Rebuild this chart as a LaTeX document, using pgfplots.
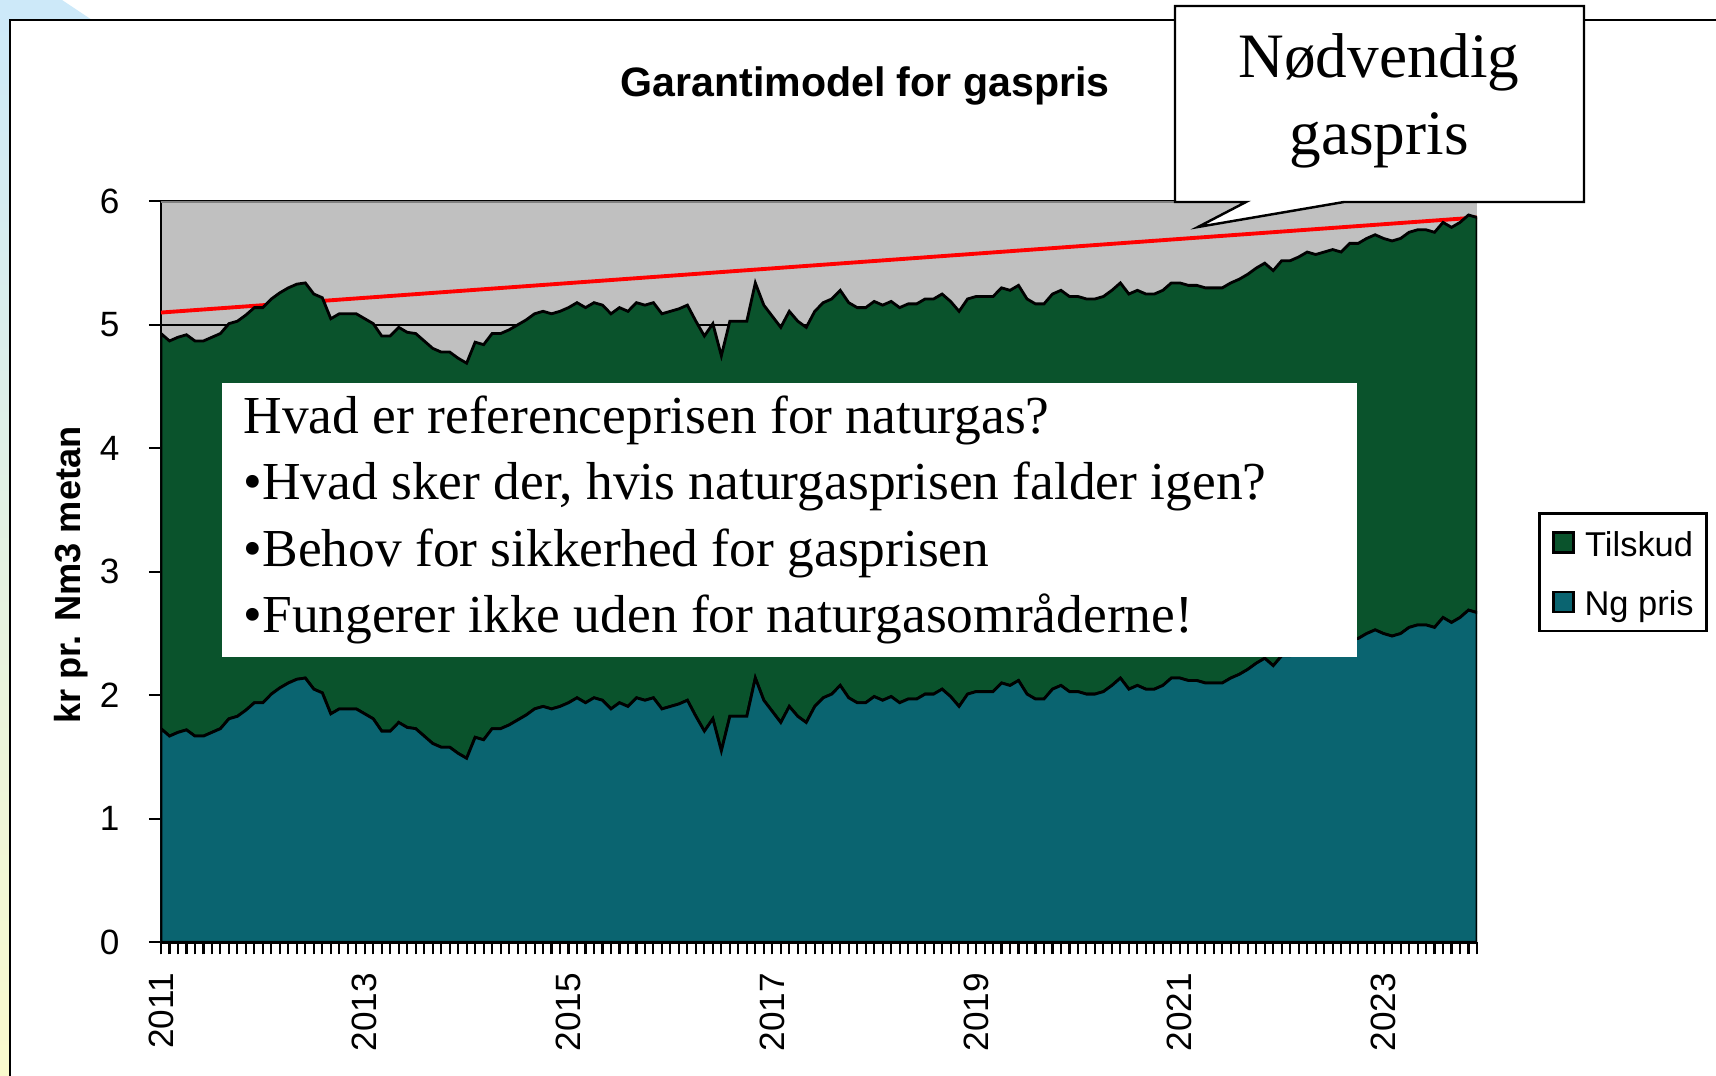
\documentclass[border=0pt]{standalone}
\usepackage{pgfplots}
\pgfplotsset{compat=1.18}
\usepackage{pgfplotstable}
\usepackage{fontspec}
\setmainfont{Liberation Sans}
\newfontfamily\timesfont{Liberation Serif}

\definecolor{ngteal}{RGB}{10,100,112}
\definecolor{tilgreen}{RGB}{10,83,44}
\definecolor{plotgray}{RGB}{192,192,192}
\definecolor{bordergray}{RGB}{128,128,128}
\definecolor{slideblue}{RGB}{205,233,249}
\definecolor{slideyellow}{RGB}{250,250,205}

% month index (0 = jan 2011), Ng pris, Tilskud
\pgfplotstableread[row sep=\\]{
m ng tilskud\\
0 1.73 3.2\\ 1 1.67 3.2\\ 2 1.70 3.2\\ 3 1.72 3.2\\ 4 1.67 3.2\\ 5 1.67 3.2\\
6 1.70 3.2\\ 7 1.73 3.2\\ 8 1.81 3.2\\ 9 1.83 3.2\\ 10 1.88 3.2\\ 11 1.94 3.2\\
12 1.94 3.2\\ 13 2.01 3.2\\ 14 2.06 3.2\\ 15 2.10 3.2\\ 16 2.13 3.2\\ 17 2.14 3.2\\
18 2.05 3.2\\ 19 2.02 3.2\\ 20 1.85 3.2\\ 21 1.89 3.2\\ 22 1.89 3.2\\ 23 1.89 3.2\\
24 1.85 3.2\\ 25 1.81 3.2\\ 26 1.71 3.2\\ 27 1.71 3.2\\ 28 1.78 3.2\\ 29 1.74 3.2\\
30 1.73 3.2\\ 31 1.67 3.2\\ 32 1.61 3.2\\ 33 1.58 3.2\\ 34 1.58 3.2\\ 35 1.53 3.2\\
36 1.49 3.2\\ 37 1.66 3.2\\ 38 1.64 3.2\\ 39 1.73 3.2\\ 40 1.73 3.2\\ 41 1.76 3.2\\
42 1.80 3.2\\ 43 1.84 3.2\\ 44 1.89 3.2\\ 45 1.91 3.2\\ 46 1.89 3.2\\ 47 1.91 3.2\\
48 1.94 3.2\\ 49 1.98 3.2\\ 50 1.94 3.2\\ 51 1.98 3.2\\ 52 1.96 3.2\\ 53 1.89 3.2\\
54 1.94 3.2\\ 55 1.91 3.2\\ 56 1.98 3.2\\ 57 1.96 3.2\\ 58 1.98 3.2\\ 59 1.89 3.2\\
60 1.91 3.2\\ 61 1.93 3.2\\ 62 1.96 3.2\\ 63 1.83 3.2\\ 64 1.71 3.2\\ 65 1.81 3.2\\
66 1.55 3.2\\ 67 1.83 3.2\\ 68 1.83 3.2\\ 69 1.83 3.2\\ 70 2.14 3.2\\ 71 1.96 3.2\\
72 1.87 3.2\\ 73 1.78 3.2\\ 74 1.91 3.2\\ 75 1.83 3.2\\ 76 1.78 3.2\\ 77 1.91 3.2\\
78 1.98 3.2\\ 79 2.01 3.2\\ 80 2.08 3.2\\ 81 1.98 3.2\\ 82 1.94 3.2\\ 83 1.94 3.2\\
84 1.99 3.2\\ 85 1.96 3.2\\ 86 1.99 3.2\\ 87 1.94 3.2\\ 88 1.97 3.2\\ 89 1.97 3.2\\
90 2.01 3.2\\ 91 2.01 3.2\\ 92 2.05 3.2\\ 93 1.99 3.2\\ 94 1.91 3.2\\ 95 2.01 3.2\\
96 2.03 3.2\\ 97 2.03 3.2\\ 98 2.03 3.2\\ 99 2.10 3.2\\ 100 2.08 3.2\\ 101 2.12 3.2\\
102 2.01 3.2\\ 103 1.97 3.2\\ 104 1.97 3.2\\ 105 2.05 3.2\\ 106 2.08 3.2\\ 107 2.03 3.2\\
108 2.03 3.2\\ 109 2.01 3.2\\ 110 2.01 3.2\\ 111 2.03 3.2\\ 112 2.08 3.2\\ 113 2.14 3.2\\
114 2.05 3.2\\ 115 2.08 3.2\\ 116 2.05 3.2\\ 117 2.05 3.2\\ 118 2.08 3.2\\ 119 2.14 3.2\\
120 2.14 3.2\\ 121 2.12 3.2\\ 122 2.12 3.2\\ 123 2.10 3.2\\ 124 2.10 3.2\\ 125 2.10 3.2\\
126 2.14 3.2\\ 127 2.17 3.2\\ 128 2.21 3.2\\ 129 2.26 3.2\\ 130 2.30 3.2\\ 131 2.24 3.2\\
132 2.32 3.2\\ 133 2.32 3.2\\ 134 2.35 3.2\\ 135 2.39 3.2\\ 136 2.37 3.2\\ 137 2.39 3.2\\
138 2.41 3.2\\ 139 2.39 3.2\\ 140 2.46 3.2\\ 141 2.46 3.2\\ 142 2.50 3.2\\ 143 2.53 3.2\\
144 2.50 3.2\\ 145 2.48 3.2\\ 146 2.50 3.2\\ 147 2.55 3.2\\ 148 2.57 3.2\\ 149 2.57 3.2\\
150 2.55 3.2\\ 151 2.63 3.2\\ 152 2.59 3.2\\ 153 2.63 3.2\\ 154 2.69 3.2\\ 155 2.67 3.2\\
}\gasdata

\begin{document}
\begin{tikzpicture}
\useasboundingbox (0,0) rectangle (17.16,10.76);

% slide background at the left edge
\shade[top color=slideblue, bottom color=slideyellow] (0,0) rectangle (0.10,10.76);
\fill[slideblue] (0,10.76) -- (0.62,10.76) -- (0.92,10.56) -- (0,10.56) -- cycle;
\draw[black, line width=0.85pt] (0.10,-0.1) -- (0.10,10.56) -- (17.3,10.56);

\begin{axis}[
    at={(1.61cm,1.337cm)}, anchor=south west,
    width=13.16cm, height=7.409cm, scale only axis,
    xmin=0, xmax=155, ymin=0, ymax=6,
    axis lines=left,
    axis line style={-, black, line width=0.8pt},
    axis background/.style={fill=plotgray},
    xtick={0,24,48,72,96,120,144},
    xticklabels={2011,2013,2015,2017,2019,2021,2023},
    minor xtick={0,1,...,155},
    ytick={0,1,2,3,4,5,6},
    tick align=outside,
    major tick length=0.12cm, minor tick length=0.12cm,
    tick style={black, line width=0.6pt},
    tick label style={font=\fontsize{10}{12}\selectfont},
    /pgf/number format/assume math mode=true,
    xticklabel style={rotate=90, anchor=east, inner xsep=0.18cm, inner ysep=0pt},
    yticklabel style={anchor=east, inner xsep=0.29cm, inner ysep=0pt},
    ymajorgrids,
    major grid style={black, line width=0.6pt},
    stack plots=y,
    reverse legend,
    legend image code/.code={\draw[#1, draw=black, line width=0.6pt] (0cm,-0.1cm) rectangle (0.2cm,0.1cm);},
    legend style={at={(1.0464,0.5807)}, anchor=north west, draw=black, line width=0.8pt,
        fill=white, font=\fontsize{9.8}{12}\selectfont,
        inner xsep=0.13cm, inner ysep=0.12cm, row sep=0.255cm, column sep=0.1cm,
        nodes={inner sep=0pt, text height=0.31cm, text depth=0.03cm}},
]
\addplot[fill=ngteal, draw=black, line width=0.8pt] table[x=m, y=ng] {\gasdata} \closedcycle;
\addplot[fill=tilgreen, draw=black, line width=0.8pt] table[x=m, y=tilskud] {\gasdata} \closedcycle;
\addplot[stack plots=false, forget plot, red, line width=1.1pt] coordinates {(0,5.10) (155,5.87)};
\legend{Ng pris, Tilskud}
\draw[bordergray, line width=1pt] (rel axis cs:0,1) -- (rel axis cs:1,1);
\draw[bordergray, line width=0.8pt] ([xshift=0.6pt]rel axis cs:1,0) -- ([xshift=0.6pt]rel axis cs:1,1);
\end{axis}

% y axis label and title
\node[rotate=90, font=\bfseries\fontsize{10.3}{12}\selectfont] at (0.71,5.01) {kr pr. Nm3 metan};
\node[anchor=base, font=\bfseries\fontsize{11.7}{14}\selectfont] at (8.65,9.79) {Garantimodel for gaspris};

% text box over the chart
\fill[white] (2.22,6.93) rectangle (13.57,4.19);
\begin{scope}[every node/.style={anchor=base west, inner sep=0pt, font=\timesfont\fontsize{15.2}{19}\selectfont}]
\node at (2.43,6.42) {Hvad er referenceprisen for naturgas?};
\node at (2.43,5.76) {•Hvad sker der, hvis naturgasprisen falder igen?};
\node at (2.43,5.09) {•Behov for sikkerhed for gasprisen};
\node at (2.43,4.43) {•Fungerer ikke uden for naturgasområderne!};
\end{scope}

% callout
\filldraw[fill=white, draw=black, line width=0.7pt]
  (11.75,10.70) -- (15.84,10.70) -- (15.84,8.74) -- (13.44,8.74) -- (11.98,8.49)
  -- (12.46,8.74) -- (11.75,8.74) -- cycle;
\node[anchor=base, inner sep=0pt, font=\timesfont\fontsize{18}{22}\selectfont] at (13.79,9.98) {Nødvendig};
\node[anchor=base, inner sep=0pt, font=\timesfont\fontsize{18}{22}\selectfont] at (13.79,9.21) {gaspris};
\end{tikzpicture}
\end{document}
